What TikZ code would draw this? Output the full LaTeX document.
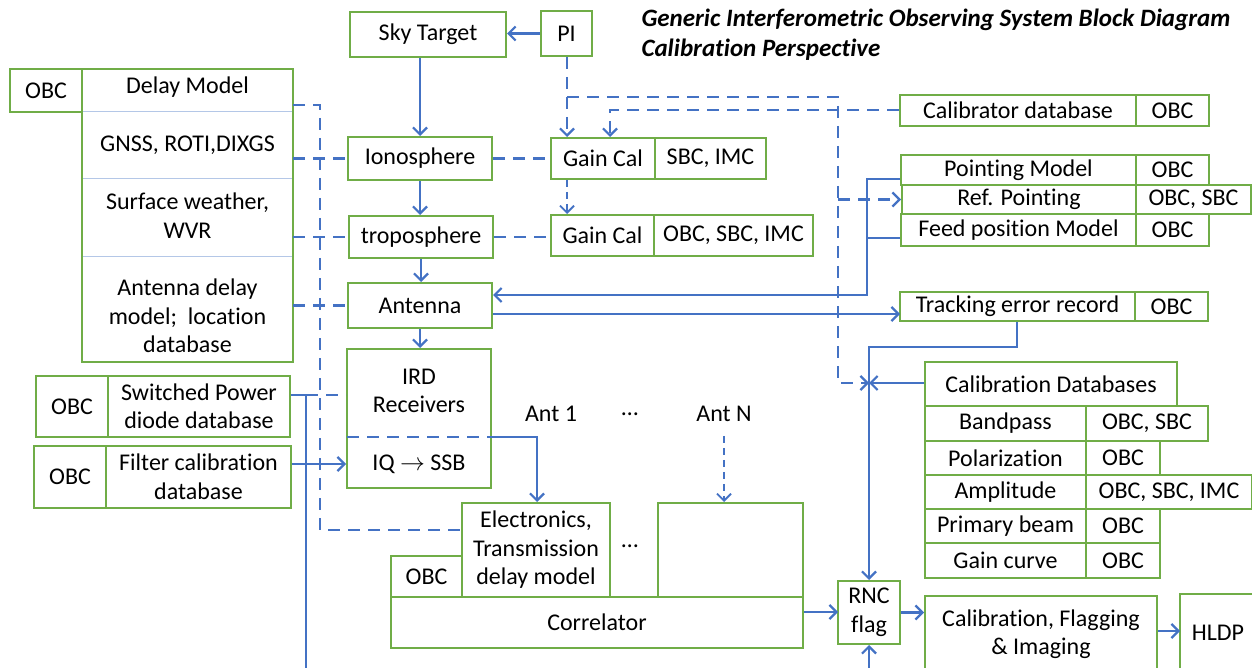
\documentclass[tikz,border=0pt]{standalone}
\usepackage{fontspec}
\setmainfont{Carlito}[RawFeature={-liga;-clig;-dlig;-calt;-rlig;-hlig}]
\usetikzlibrary{arrows.meta}
\definecolor{lnblue}{HTML}{4472C4}
\definecolor{bxgreen}{HTML}{70AD47}
\definecolor{divblue}{HTML}{B4C7E7}
% \bx[style]{name}{x1}{y1}{x2}{y2}{text}: a node filling the given rectangle
\newcommand\bx[7][box]{\node[#1, minimum width={#5-#3}, minimum height={#6-#4}] (#2) at ({(#3+#5)/2},{(#4+#6)/2}) {#7};}
\begin{document}
\begin{tikzpicture}[x=1pt,y=-1pt,
  txt/.style={font=\fontsize{24}{28.5}\selectfont},
  cell/.style={txt, inner sep=0pt, align=center},
  box/.style={cell, draw=bxgreen, line width=2pt},
  boxline/.style={draw=bxgreen, line width=2pt},
  divider/.style={draw=divblue, line width=1.3pt},
  wire/.style={draw=lnblue, line width=2.2pt},
  dwire/.style={wire, dash pattern=on 12pt off 8pt},
  swire/.style={wire, line width=1.8pt, dash pattern=on 7pt off 5pt},
  tip/.style={-{Straight Barb[length=7pt,width=14pt]}},
]
\useasboundingbox (0,0) rectangle (1252,668);

% title
\node[anchor=west, align=left, font=\fontsize{25}{30}\selectfont\bfseries\itshape] (title) at (638,35)
  {Generic Interferometric Observing System Block Diagram\\Calibration Perspective};

% central chain
\bx{sky}{350}{12}{506}{57}{Sky Target}
\bx{pi}{541}{11}{592}{56}{PI}
\bx{iono}{348}{137}{492}{180}{Ionosphere}
\bx{gc1}{551}{138}{655}{179}{Gain Cal}
\bx{gc1t}{655}{138}{766}{179}{SBC, IMC}
\bx{tropo}{349}{216}{493}{258}{troposphere}
\bx{gc2}{551}{215}{654}{256}{Gain Cal}
\bx{gc2t}{654}{215}{813}{256}{OBC, SBC, IMC}
\bx{ant}{348}{283}{492}{328}{Antenna}
\bx{ird}{347}{349}{491}{488}{}
\node[cell] (irdtxt) at (419,391) {IRD\\Receivers};
\node[cell] (iq) at (419,464) {IQ $\rightarrow$ SSB};

% delay model block
\bx{obcA}{10}{69}{82}{112}{OBC}
\bx[cell]{dm}{82}{69}{293}{106}{Delay Model}
\bx[cell]{gnss}{82}{112}{293}{179}{GNSS, ROTI,DIXGS}
\bx[cell]{surf}{82}{179}{293}{252}{Surface weather,\\WVR}
\bx[cell]{antdm}{82}{257}{293}{375}{Antenna delay\\model;~ location\\database}
\coordinate (dmtl) at (82,69);
\coordinate (dmbr) at (293,362);
\draw[divider] (gnss.north west) -- (gnss.north east);
\draw[divider] (surf.north west) -- (surf.north east);
\draw[divider] (antdm.north west) -- (antdm.north east);
\draw[boxline] (dmtl) rectangle (dmbr);

% receiver-side databases
\bx{obcS}{36}{376}{108}{437}{OBC}
\bx{swp}{108}{376}{290}{437}{Switched Power\\diode database}
\bx{obcF}{34}{446}{106}{508}{OBC}
\bx{filt}{106}{446}{291}{508}{Filter calibration\\database}

% correlator section
\bx{elec}{462}{503}{610}{597}{Electronics,\\Transmission\\delay model}
\bx{obcE}{391}{556}{462}{597}{OBC}
\bx{antn}{658}{503}{803}{597}{}
\bx{corr}{391}{597}{803}{648}{Correlator}
\node[cell] (ant1) at (551,414) {Ant 1};
\node[cell] (dots1) at (630,414) {…};
\node[cell] (antN) at (724,414) {Ant N};
\node[cell] (dots2) at (630,546) {…};

% right-hand databases
\bx{caldb}{900}{95}{1136}{126}{Calibrator database}
\bx{caldbo}{1136}{95}{1209}{126}{OBC}
\bx{pm}{901}{155}{1136}{185}{Pointing Model}
\bx{pmo}{1136}{155}{1209}{185}{OBC}
\bx{rp}{902}{185}{1136}{214}{Ref. Pointing}
\bx{rpo}{1136}{185}{1251}{214}{OBC, SBC}
\bx{fp}{901}{214}{1136}{246}{Feed position Model}
\bx{fpo}{1136}{214}{1209}{246}{OBC}
\bx{trk}{900}{292}{1135}{321}{Tracking error record}
\bx{trko}{1135}{292}{1208}{321}{OBC}
\bx{cdb}{925}{362}{1177}{406}{Calibration Databases}
\bx{bp}{925}{406}{1086}{441}{Bandpass}
\bx{bpo}{1086}{406}{1208}{441}{OBC, SBC}
\bx{pol}{925}{441}{1086}{475}{Polarization}
\bx{polo}{1086}{441}{1160}{475}{OBC}
\bx{amp}{925}{475}{1086}{509}{Amplitude}
\bx{ampo}{1086}{475}{1252}{509}{OBC, SBC, IMC}
\bx{pb}{925}{509}{1086}{543}{Primary beam}
\bx{pbo}{1086}{509}{1160}{543}{OBC}
\bx{gcv}{925}{543}{1086}{578}{Gain curve}
\bx{gcvo}{1086}{543}{1160}{578}{OBC}
\bx{rnc}{838}{581}{900}{644}{RNC\\flag}
\bx{cfi}{925}{596}{1157}{672}{Calibration, Flagging\\\& Imaging}
\bx{hldp}{1180}{594}{1256}{672}{HLDP}

% routing points
\coordinate (dv) at (320,105);
\coordinate (dvb) at (320,530);
\coordinate (pj) at (567,97);
\coordinate (pc) at (838,97);
\coordinate (cj) at (610,110);
\coordinate (rj) at (869,383);
\coordinate (pv) at (867,179);
\coordinate (fv) at (867,238);
\coordinate (pa) at (867,295);
\coordinate (tk) at (900,314);
\coordinate (tt) at (1017,347);
\coordinate (tl) at (869,347);
\coordinate (cr) at (838,612);
\coordinate (ch) at (1180,631);
\coordinate (sv) at (306,395);
\coordinate (sb) at (306,668.6);
\coordinate (irdsep) at (347,437);
\coordinate (a1) at (537,437);

% solid signal path
\draw[wire,tip] (pi.west) -- (pi.west -| sky.east);
\draw[wire,tip] (iono.north |- sky.south) -- (iono.north);
\draw[wire,tip] (iono.south) -- (iono.south |- tropo.north);
\draw[wire,tip] (tropo.south) -- (tropo.south |- ant.north);
\draw[wire,tip] (ant.south) -- (ant.south |- ird.north);
\draw[dwire] (irdsep) -- (irdsep -| ird.east);
\draw[wire,tip] (irdsep -| ird.east) -- (a1) -- (a1 |- elec.north);
\draw[swire,tip, shorten <=14pt] (antN.south) -- (antN.south |- antn.north);

% delay-model links
\draw[dwire] (dv -| dmbr) -- (dv) -- (dvb) -- (dvb -| elec.west);
\draw[dwire] (gnss.east |- iono.west) -- (iono.west);
\draw[dwire] (surf.east |- tropo.west) -- (tropo.west);
\draw[dwire] (antdm.east |- ant.west) -- (ant.west);
\draw[dwire] (iono.east) -- (iono.east -| gc1.west);
\draw[dwire] (tropo.east) -- (tropo.east -| gc2.west);

% PI and calibrator links
\draw[dwire,tip] (pi.south -| pj) -- (pj |- gc1.north);
\draw[dwire,tip] (pj) -- (pc) -- (pc |- rj) -- (rj);
\draw[dwire,tip] (pc |- rp.west) -- (rp.west);
\draw[dwire,tip] (caldb.west |- cj) -- (cj) -- (cj |- gc1.north);
\draw[swire,tip] (gc1.south -| pj) -- (pj |- gc2.north);

% pointing and tracking
\draw[wire,tip] (pv -| pm.west) -- (pv) -- (pa) -- (pa -| ant.east);
\draw[wire] (fv -| fp.west) -- (fv);
\draw[wire,tip] (tk -| ant.east) -- (tk);
\draw[wire,tip] (tt |- trk.south) -- (tt) -- (tl) -- (tl |- rnc.north);
\draw[wire,tip] (cdb.west |- rj) -- (rj);

% back end
\draw[wire,tip] (cr -| corr.east) -- (cr);
\draw[wire,tip] (rnc.east) -- (rnc.east -| cfi.west);
\draw[wire,tip] (ch -| cfi.east) -- (ch);

% receiver databases
\draw[wire,tip] (sv -| swp.east) -- (sv) -- (sb) -- (sb -| rnc.south) -- (rnc.south);
\draw[dwire] (sv) -- (sv -| ird.west);
\draw[wire,tip] (iq -| filt.east) -- (iq -| ird.west);
\end{tikzpicture}
\end{document}
